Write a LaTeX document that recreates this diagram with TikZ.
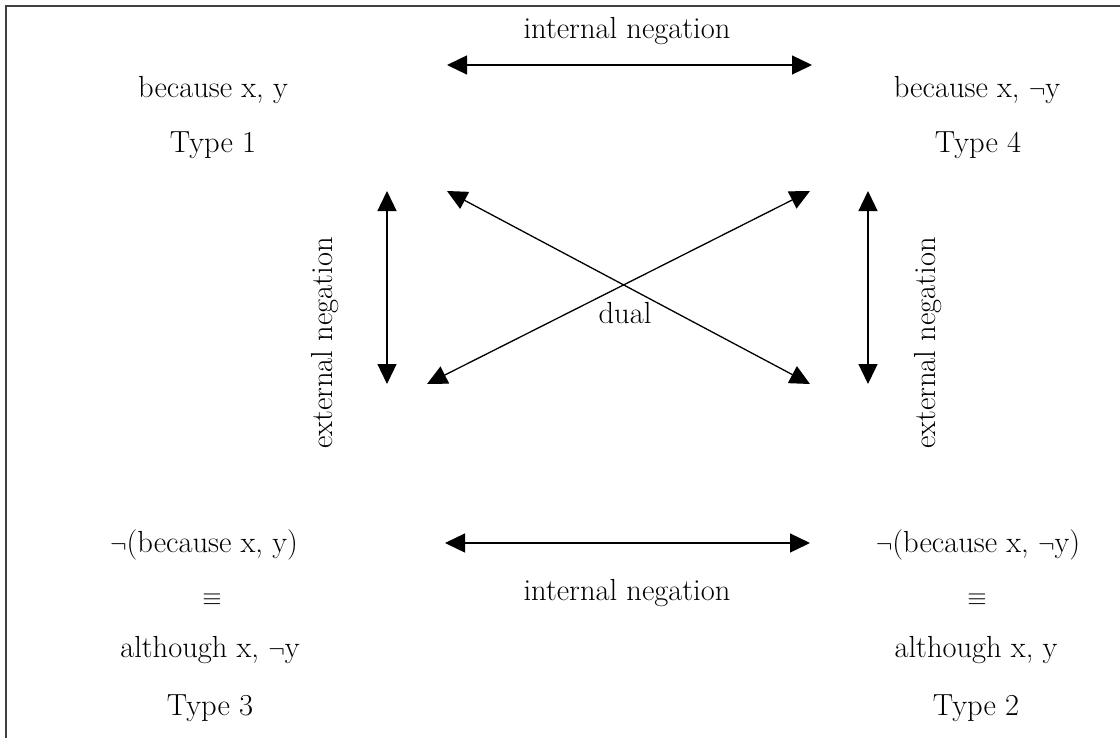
\documentclass[tikz,border=0pt]{standalone}
\usetikzlibrary{arrows.meta}
\begin{document}
\begin{tikzpicture}[x=1pt,y=-1pt,
  lbl/.style={inner sep=0pt,font=\fontsize{30.5}{36}\selectfont},
  dbl/.style={line width=1.3pt,{Triangle[length=20pt,width=19pt]}-{Triangle[length=20pt,width=19pt]}}]
\useasboundingbox (0,0) rectangle (1120,737);
\begin{scope}
\clip (0,0) rectangle (1120,737);
\draw[line width=1.3pt,black!75] (6,6) rectangle (1130,750);
\end{scope}
% texts
\node[lbl] (intTop) at (627,31) {internal negation};
\node[lbl] (t1a) at (213,90) {because x, y};
\node[lbl] (t1b) at (213,145) {Type 1};
\node[lbl] (t4a) at (977,90) {because x, $\neg$y};
\node[lbl] (t4b) at (978,145) {Type 4};
\node[lbl,rotate=90] (extL) at (325,343) {external negation};
\node[lbl,rotate=90] (extR) at (928,343) {external negation};
\node[lbl] (dual) at (625,313) {dual};
\node[lbl] (t3a) at (204,545) {$\neg$(because x, y)};
\node[lbl] (t3e) at (212,600) {$\equiv$};
\node[lbl] (t3b) at (210,650) {although x, $\neg$y};
\node[lbl] (t3c) at (210,708) {Type 3};
\node[lbl] (t2a) at (978,545) {$\neg$(because x, $\neg$y)};
\node[lbl] (t2e) at (977,600) {$\equiv$};
\node[lbl] (t2b) at (976,650) {although x, y};
\node[lbl] (t2c) at (976,708) {Type 2};
\node[lbl] (intBot) at (627,593) {internal negation};
% arrow end points
\coordinate (tl) at (447,65);
\coordinate (tr) at (812,65);
\coordinate (bl) at (445,543);
\coordinate (br) at (810,543);
\coordinate (lvT) at (387,191);
\coordinate (lvB) at (387,384);
\coordinate (rvT) at (868,191);
\coordinate (rvB) at (868,384);
\coordinate (d1a) at (447,191);
\coordinate (d1b) at (810,384);
\coordinate (d2a) at (810,191);
\coordinate (d2b) at (427,384);
\draw[dbl] (tl) -- (tr);
\draw[dbl] (bl) -- (br);
\draw[dbl] (lvT) -- (lvB);
\draw[dbl] (rvT) -- (rvB);
\draw[dbl] (d1a) -- (d1b);
\draw[dbl] (d2a) -- (d2b);
\end{tikzpicture}
\end{document}
